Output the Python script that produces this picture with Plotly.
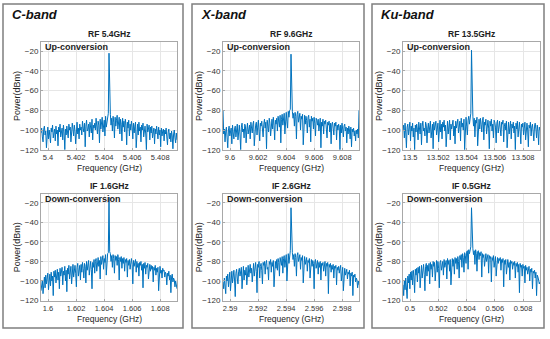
import plotly.graph_objects as go
import numpy as np

W, H = 550, 339

band_names = ["C-band", "X-band", "Ku-band"]
top_titles = ["RF 5.4GHz", "RF 9.6GHz", "RF 13.5GHz"]
bot_titles = ["IF 1.6GHz", "IF 2.6GHz", "IF 0.5GHz"]
top_base = [5.4, 9.6, 13.5]
bot_base = [1.6, 2.59, 0.5]
top_ticks = [["5.4", "5.402", "5.404", "5.406", "5.408"],
             ["9.6", "9.602", "9.604", "9.606", "9.608"],
             ["13.5", "13.502", "13.504", "13.506", "13.508"]]
bot_ticks = [["1.6", "1.602", "1.604", "1.606", "1.608"],
             ["2.59", "2.592", "2.594", "2.596", "2.598"],
             ["0.5", "0.502", "0.504", "0.506", "0.508"]]
y_ticks = [-120, -100, -80, -60, -40, -20]

c_rf = [-103,-98,-107,-112,-99,-96,-105,-101,-118,-104,-97,-109,-100,-106,-113,-98,-102,-95,-108,-103,
        -99,-111,-96,-104,-100,-116,-97,-102,-94,-107,-101,-98,-110,-95,-103,-120,-99,-105,-96,-101,
        -108,-94,-100,-97,-112,-103,-93,-99,-106,-95,-101,-114,-96,-92,-104,-98,-109,-94,-100,-97,
        -105,-91,-98,-102,-93,-117,-96,-90,-101,-99,-94,-107,-92,-97,-103,-89,-110,-95,-98,-93,
        -100,-88,-96,-104,-91,-95,-113,-89,-99,-93,-87,-102,-94,-90,-106,-86,-97,-92,-85,-83,
        -22,
        -82,-84,-95,-88,-101,-86,-92,-108,-87,-96,-90,-85,-99,-93,-87,-104,-89,-94,-111,-88,
        -97,-91,-102,-89,-95,-115,-92,-98,-90,-106,-94,-100,-91,-97,-109,-93,-103,-96,-92,-118,
        -99,-94,-105,-92,-101,-97,-112,-95,-100,-93,-107,-98,-96,-104,-120,-94,-102,-99,-95,-110,
        -97,-103,-96,-108,-101,-98,-114,-99,-104,-96,-102,-109,-97,-105,-100,-117,-98,-106,-101,-99,
        -111,-100,-104,-98,-107,-115,-102,-99,-109,-103,-112,-101,-106,-119,-104,-100,-108,-113,-103,-110]

c_if = [-110,-104,-99,-113,-101,-96,-107,-94,-103,-98,-92,-109,-97,-93,-105,-91,-100,-95,-115,-90,
        -96,-89,-102,-93,-88,-99,-91,-108,-87,-95,-92,-86,-104,-90,-94,-85,-100,-89,-111,-87,
        -93,-84,-98,-88,-85,-103,-90,-83,-96,-87,-84,-92,-106,-86,-82,-95,-88,-84,-99,-83,
        -91,-81,-87,-97,-82,-85,-102,-80,-89,-84,-79,-94,-83,-80,-88,-108,-81,-86,-78,-92,
        -80,-77,-90,-82,-76,-85,-79,-98,-75,-83,-78,-74,-88,-77,-81,-73,-94,-76,-72,-71,
        -14,
        -70,-72,-80,-74,-86,-73,-77,-92,-74,-79,-75,-84,-73,-78,-99,-76,-80,-75,-87,-77,
        -82,-76,-90,-78,-81,-77,-96,-79,-84,-78,-88,-80,-77,-83,-103,-79,-85,-81,-78,-91,
        -80,-86,-82,-95,-81,-84,-80,-89,-83,-107,-82,-87,-81,-93,-84,-86,-82,-98,-85,-83,
        -90,-84,-88,-85,-101,-86,-89,-84,-94,-87,-91,-86,-110,-88,-85,-92,-89,-97,-87,-90,
        -89,-96,-91,-93,-104,-92,-95,-90,-99,-94,-112,-96,-93,-101,-97,-99,-106,-100,-103,-108]

x_rf = [-80,-104,-99,-112,-101,-97,-108,-118,-100,-96,-106,-102,-98,-114,-95,-103,-109,-99,-96,-107,
        -101,-94,-110,-98,-95,-105,-120,-97,-93,-102,-99,-108,-94,-96,-113,-100,-93,-104,-97,-95,
        -109,-92,-98,-103,-94,-91,-116,-99,-95,-92,-105,-97,-90,-101,-111,-93,-96,-91,-100,-107,
        -94,-89,-98,-92,-119,-90,-96,-102,-88,-93,-106,-91,-89,-99,-87,-95,-110,-90,-94,-88,
        -101,-86,-92,-97,-85,-113,-89,-84,-95,-88,-83,-104,-86,-82,-91,-98,-81,-87,-80,-79,
        -23,
        -78,-81,-88,-83,-96,-82,-86,-109,-84,-81,-92,-85,-83,-100,-86,-89,-84,-115,-87,-85,
        -94,-86,-90,-103,-87,-85,-97,-89,-112,-86,-91,-88,-99,-87,-93,-106,-88,-90,-95,-89,
        -101,-90,-88,-118,-92,-96,-89,-104,-91,-94,-90,-99,-108,-92,-95,-91,-102,-93,-114,-94,
        -92,-98,-105,-93,-96,-92,-110,-95,-100,-94,-97,-120,-95,-103,-93,-99,-107,-96,-94,-101,
        -97,-113,-98,-104,-96,-100,-109,-97,-117,-99,-102,-98,-106,-101,-111,-100,-104,-99,-108,-80]

x_if = [-101,-108,-97,-104,-113,-95,-100,-93,-106,-98,-91,-110,-96,-90,-102,-94,-89,-99,-116,-92,
        -88,-97,-103,-90,-87,-95,-92,-86,-108,-91,-85,-99,-89,-94,-86,-104,-90,-84,-96,-88,
        -83,-92,-87,-101,-84,-82,-95,-88,-81,-90,-112,-83,-86,-80,-97,-85,-82,-89,-103,-81,
        -84,-80,-93,-82,-79,-88,-86,-99,-80,-83,-78,-91,-81,-85,-79,-106,-82,-80,-87,-78,
        -89,-77,-81,-95,-76,-79,-84,-75,-92,-77,-74,-86,-78,-73,-100,-75,-72,-82,-71,-69,
        -25,
        -68,-71,-78,-73,-85,-72,-76,-95,-74,-71,-80,-75,-73,-88,-76,-79,-74,-102,-77,-75,
        -83,-78,-76,-90,-79,-81,-77,-97,-80,-78,-85,-79,-82,-108,-80,-78,-87,-81,-79,-93,
        -81,-86,-80,-99,-82,-84,-81,-90,-83,-80,-95,-82,-85,-81,-113,-83,-86,-82,-91,-84,
        -88,-83,-97,-85,-87,-84,-104,-86,-89,-85,-92,-87,-84,-100,-88,-86,-110,-89,-87,-94,
        -90,-88,-98,-91,-93,-89,-105,-92,-95,-91,-115,-94,-96,-93,-101,-97,-99,-107,-100,-104]

ku_rf = [-100,-95,-108,-93,-103,-118,-97,-94,-105,-99,-92,-111,-96,-101,-93,-107,-98,-120,-95,-102,
         -94,-99,-110,-92,-97,-104,-93,-115,-96,-91,-101,-98,-106,-92,-95,-113,-99,-93,-103,-96,
         -91,-108,-97,-94,-119,-92,-100,-95,-91,-105,-98,-93,-112,-96,-90,-102,-94,-109,-92,-97,
         -90,-101,-95,-117,-93,-91,-104,-97,-90,-110,-94,-99,-92,-90,-106,-96,-114,-91,-98,-93,
         -89,-103,-95,-91,-111,-88,-97,-93,-100,-89,-120,-92,-87,-96,-105,-90,-86,-94,-85,-83,
         -19,
         -84,-86,-96,-88,-107,-90,-93,-87,-116,-91,-89,-99,-88,-94,-102,-90,-87,-110,-92,-95,
         -89,-104,-93,-90,-98,-119,-91,-96,-89,-101,-94,-108,-90,-92,-97,-113,-93,-90,-103,-95,
         -91,-99,-106,-92,-94,-90,-112,-96,-93,-100,-91,-118,-95,-92,-104,-97,-91,-109,-94,-98,
         -92,-103,-96,-120,-93,-99,-91,-107,-95,-92,-101,-114,-94,-97,-93,-105,-98,-92,-110,-96,
         -93,-100,-117,-95,-98,-92,-106,-97,-94,-102,-111,-96,-93,-99,-108,-95,-101,-115,-97,-100]

ku_if = [-104,-115,-100,-109,-97,-106,-118,-95,-102,-93,-108,-91,-99,-90,-104,-89,-96,-112,-88,-94,
         -87,-101,-86,-92,-85,-107,-88,-84,-97,-86,-83,-93,-110,-85,-82,-95,-84,-90,-82,-103,
         -81,-88,-83,-96,-80,-85,-81,-100,-82,-79,-91,-80,-87,-107,-81,-79,-89,-82,-80,-94,
         -78,-86,-80,-79,-98,-77,-83,-79,-90,-78,-104,-80,-77,-85,-78,-93,-76,-82,-77,-88,
         -75,-80,-97,-74,-78,-73,-86,-72,-76,-91,-71,-74,-82,-70,-69,-88,-68,-72,-66,-65,
         -25,
         -64,-67,-73,-69,-83,-68,-72,-90,-70,-69,-78,-71,-74,-70,-96,-72,-76,-73,-85,-74,
         -72,-80,-75,-73,-92,-74,-77,-75,-101,-76,-79,-74,-86,-77,-75,-95,-78,-76,-82,-77,
         -79,-76,-89,-78,-81,-77,-106,-79,-83,-78,-93,-80,-78,-86,-81,-99,-79,-82,-80,-88,
         -81,-84,-80,-97,-82,-85,-81,-91,-83,-112,-82,-86,-84,-95,-83,-87,-85,-102,-84,-89,
         -86,-93,-87,-85,-100,-88,-91,-87,-108,-90,-92,-89,-97,-91,-115,-94,-96,-99,-103,-101]

top_series = [c_rf, x_rf, ku_rf]
bot_series = [c_if, x_if, ku_if]

SPAN_LO, SPAN_HI = -0.0005, 0.0092

def px(x):
    return x / W

def py(y):
    return 1 - y / H

col_px = [(41, 177), (223, 359), (403, 540)]
row_px = [(43, 152), (197, 305)]
box_px = [(3, 183), (192, 364), (372, 544)]
BLUE = "#0072BD"
FONT = "Liberation Sans, Arial, sans-serif"

fig = go.Figure()
annotations = []
shapes = []
layout = {}

k = 0
for c in range(3):
    for r in range(2):
        k += 1
        base = top_base[c] if r == 0 else bot_base[c]
        ys = top_series[c] if r == 0 else bot_series[c]
        labels = top_ticks[c] if r == 0 else bot_ticks[c]
        xs = np.linspace(base + SPAN_LO, base + SPAN_HI, len(ys))
        xa = "x" if k == 1 else f"x{k}"
        ya = "y" if k == 1 else f"y{k}"
        fig.add_trace(go.Scatter(x=xs, y=ys, mode="lines", xaxis=xa, yaxis=ya,
                                 line=dict(color=BLUE, width=1.0), showlegend=False,
                                 hoverinfo="skip"))
        x0, x1 = col_px[c]
        y0, y1 = row_px[r]
        tickvals = [base + 0.002 * i for i in range(5)]
        layout[f"xaxis{k if k > 1 else ''}"] = dict(
            domain=[px(x0), px(x1)], anchor=ya,
            range=[base + SPAN_LO, base + SPAN_HI],
            tickvals=tickvals, ticktext=labels,
            showgrid=True, gridcolor="#e6e6e6", gridwidth=1,
            showline=True, mirror=True, linecolor="#a8a8a8", linewidth=1,
            ticks="inside", ticklen=2, tickcolor="#a8a8a8",
            tickfont=dict(size=7.5, color="#333", family=FONT),
            zeroline=False,
        )
        layout[f"yaxis{k if k > 1 else ''}"] = dict(
            domain=[py(y1), py(y0)], anchor=xa,
            range=[-120, -11],
            tickvals=y_ticks,
            showgrid=True, gridcolor="#e6e6e6", gridwidth=1,
            showline=True, mirror=True, linecolor="#a8a8a8", linewidth=1,
            ticks="inside", ticklen=2, tickcolor="#a8a8a8",
            tickfont=dict(size=8, color="#333", family=FONT),
            zeroline=False,
        )
        xc = (x0 + x1) / 2
        title = top_titles[c] if r == 0 else bot_titles[c]
        annotations.append(dict(text=f"<b>{title}</b>", x=px(xc), y=py(y0 - 8),
                                xref="paper", yref="paper", showarrow=False,
                                xanchor="center", yanchor="middle",
                                font=dict(size=8.5, color="#222", family=FONT)))
        inner = "Up-conversion" if r == 0 else "Down-conversion"
        annotations.append(dict(text=f"<b>{inner}</b>", x=px(x0 + 2), y=py(y0 + 5),
                                xref="paper", yref="paper", showarrow=False,
                                xanchor="left", yanchor="middle",
                                font=dict(size=9, color="#222", family=FONT)))
        annotations.append(dict(text="Power(dBm)", x=px(x0 - 24), y=py((y0 + y1) / 2),
                                xref="paper", yref="paper", showarrow=False, textangle=-90,
                                xanchor="center", yanchor="middle",
                                font=dict(size=9, color="#222", family=FONT)))
        annotations.append(dict(text="Frequency (GHz)", x=px(xc), y=py(y1 + 19),
                                xref="paper", yref="paper", showarrow=False,
                                xanchor="center", yanchor="middle",
                                font=dict(size=8.5, color="#222", family=FONT)))

for c in range(3):
    bx0, bx1 = box_px[c]
    shapes.append(dict(type="rect", xref="paper", yref="paper",
                       x0=px(bx0), x1=px(bx1), y0=py(333), y1=py(4),
                       line=dict(color="#7f7f7f", width=1.5)))
    annotations.append(dict(text=f"<b><i>{band_names[c]}</i></b>", x=px(bx0 + 7), y=py(15),
                            xref="paper", yref="paper", showarrow=False,
                            xanchor="left", yanchor="middle",
                            font=dict(size=13, color="#111", family=FONT)))

fig.update_layout(width=W, height=H, margin=dict(l=0, r=0, t=0, b=0),
                  paper_bgcolor="white", plot_bgcolor="white",
                  annotations=annotations, shapes=shapes, **layout)
fig.write_html("out.html", config={"displayModeBar": False},
               post_script="document.body.style.margin='0px';document.body.style.padding='0px';document.body.style.overflow='hidden';")
